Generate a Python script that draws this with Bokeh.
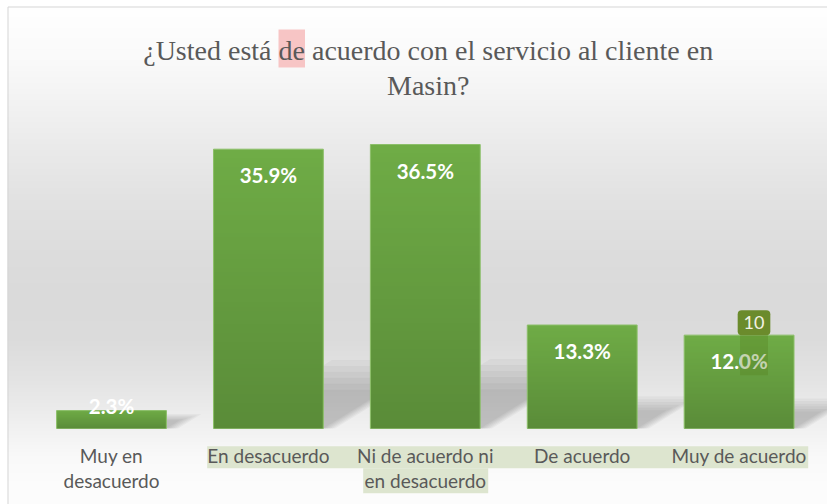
import numpy as np
from bokeh.plotting import figure
from bokeh.models import Range1d, ColumnDataSource
from bokeh.core.properties import value
from bokeh.embed import file_html
from bokeh.resources import INLINE

# ---------------- data ----------------
title_pre = "¿Usted está"
title_mark = "de"
title_post = "acuerdo con el servicio al cliente en"
title_line2 = "Masin?"

categories = ["Muy en desacuerdo", "En desacuerdo", "Ni de acuerdo ni en desacuerdo",
              "De acuerdo", "Muy de acuerdo"]
tick_labels = ["Muy en\ndesacuerdo", "En desacuerdo", "Ni de acuerdo ni\nen desacuerdo",
               "De acuerdo", "Muy de acuerdo"]
percentages = [2.3, 35.9, 36.5, 13.3, 12.0]
badge_category = "Muy de acuerdo"
badge_text = "10"

# ---------------- layout ----------------
W, H = 827, 504
PX_CAT = 156.9      # px per category step
PX_PCT = 7.78       # px per percentage point
CAT0_X = 111        # px of first category centre
BASE_Y = 428        # px of baseline from top


def X(px):
    return (px - CAT0_X) / PX_CAT


def Y(py):
    return (BASE_Y - py) / PX_PCT


x_start, x_end = X(0), X(W)
y_start, y_end = Y(H), Y(0)

p = figure(width=W, height=H, x_range=Range1d(x_start, x_end), y_range=Range1d(y_start, y_end),
           output_backend="svg", toolbar_location=None, x_axis_location=None,
           y_axis_location=None, min_border=0, outline_line_color=None,
           background_fill_color="white", border_fill_color="white")
p.grid.visible = False

# chart-area background gradient (vertical)
TOP, LEFT = 6, 7
stops = [(6, 255), (60, 250), (100, 243), (150, 234), (200, 226), (250, 221), (300, 218),
         (340, 220), (380, 228), (410, 236), (430, 242), (455, 249), (480, 252), (504, 253)]
sp = np.array([s[0] for s in stops], float)
sg = np.array([s[1] for s in stops], float)
nrows = H - TOP
rows_y = TOP + np.arange(nrows)[::-1] + 0.5          # row 0 = bottom
gray = np.interp(rows_y, sp, sg).astype(np.uint8)
img = np.empty((nrows, 1), dtype=np.uint32)
view = img.view(dtype=np.uint8).reshape((nrows, 1, 4))
view[:, 0, 0] = gray
view[:, 0, 1] = gray
view[:, 0, 2] = gray
view[:, 0, 3] = 255
p.image_rgba(image=[img], x=X(LEFT), y=y_start, dw=x_end - X(LEFT), dh=Y(TOP) - y_start)
p.line([X(LEFT + 0.5)] * 2, [y_start, Y(TOP + 0.5)], line_color="#d6d6d6", line_width=1)
p.line([X(LEFT + 0.5), x_end], [Y(TOP + 0.5)] * 2, line_color="#d6d6d6", line_width=1)

idx = list(range(len(categories)))
BAR_W = 0.70

# soft perspective shadows
shear = 0.08
for k in range(6):
    grow = 1.15 - 0.1 * k
    xs, ys = [], []
    for i, v in zip(idx, percentages):
        hs = (0.18 * v + 1.2) * grow
        x0, x1 = i - BAR_W / 2 + 0.01 * (5 - k), i + BAR_W / 2 + 0.015 * (5 - k)
        xs.append([x0, x1, x1 + shear * hs, x0 + shear * hs])
        ys.append([0, 0, hs, hs])
    p.patches(xs, ys, fill_color="black", fill_alpha=0.035, line_color=None)

# bars
src = ColumnDataSource(dict(x=idx, top=percentages, cat=categories))
p.vbar(x="x", top="top", bottom=0, width=BAR_W, source=src,
       fill_color="#6fac46", line_color="#8cbf69", line_width=1)

# darkening gradient inside bars (top light -> bottom dark)
NB = 64
shade = np.empty((NB, 1), dtype=np.uint32)
sv = shade.view(dtype=np.uint8).reshape((NB, 1, 4))
sv[:, 0, 0] = 0
sv[:, 0, 1] = 0
sv[:, 0, 2] = 0
sv[:, 0, 3] = np.linspace(48, 0, NB).astype(np.uint8)     # row 0 = bottom
p.image_rgba(image=[shade] * len(idx), x=[i - BAR_W / 2 + 0.004 for i in idx],
             y=[0] * len(idx), dw=[BAR_W - 0.008] * len(idx), dh=percentages)

# data labels
lab_y = [v - 26 / PX_PCT if v * PX_PCT > 45 else v + 5 / PX_PCT for v in percentages]
lab_txt = [f"{v:.1f}%" for v in percentages]
p.text(x=idx, y=lab_y, text=lab_txt, text_align="center", text_baseline="middle",
       text_font=value("Lato"), text_font_style="bold", text_font_size="20.5px",
       text_color="white")

# badge on last bar
bi = categories.index(badge_category)
bv = percentages[bi]
bx = bi + 0.095
p.quad(left=[bx - 0.089], right=[bx + 0.089], bottom=[bv - 40 / PX_PCT], top=[bv],
       fill_color="#56801f", fill_alpha=0.35, line_color=None)
p.quad(left=[bx - 0.104], right=[bx + 0.104], bottom=[bv], top=[bv + 25 / PX_PCT],
       fill_color="#6b8b2c", line_color=None, border_radius=4)
p.text(x=[bx], y=[bv + 12.5 / PX_PCT], text=[badge_text], text_align="center",
       text_baseline="middle", text_font=value("Lato"), text_font_size="18px",
       text_color="#f2f2e4")

# category labels with selection highlight
HL = "#dde5cf"
p.quad(left=[X(206.7)], right=[X(807.7)], top=[Y(445.7)], bottom=[Y(467.7)],
       fill_color=HL, line_color=None)
p.quad(left=[X(362.7)], right=[X(487.7)], top=[Y(467.7)], bottom=[Y(492.7)],
       fill_color=HL, line_color=None)
line1 = [t.split("\n")[0] for t in tick_labels]
line2 = [t.split("\n")[1] if "\n" in t else "" for t in tick_labels]
cat_font = dict(text_align="center", text_baseline="middle", text_font=value("Lato"),
                text_font_size="19px", text_color="#595959")
p.text(x=idx, y=[Y(455)] * len(idx), text=line1, **cat_font)
p.text(x=idx, y=[Y(479.5)] * len(idx), text=line2, **cat_font)

# title
p.quad(left=[X(278)], right=[X(304.5)], top=[Y(29)], bottom=[Y(67)],
       fill_color="#f7c5c5", line_color=None)
tfont = dict(text_font=value("Liberation Serif"), text_font_size="28px", text_color="#595959",
             text_baseline="middle")
p.text(x=[X(271)], y=[Y(49.5)], text=[title_pre], text_align="right", **tfont)
p.text(x=[X(278)], y=[Y(49.5)], text=[title_mark], text_align="left", **tfont)
p.text(x=[X(311.5)], y=[Y(49.5)], text=[title_post], text_align="left", **tfont)
p.text(x=[X(427.7)], y=[Y(84.5)], text=[title_line2], text_align="center", **tfont)

open("out.html", "w").write(file_html(p, INLINE))
